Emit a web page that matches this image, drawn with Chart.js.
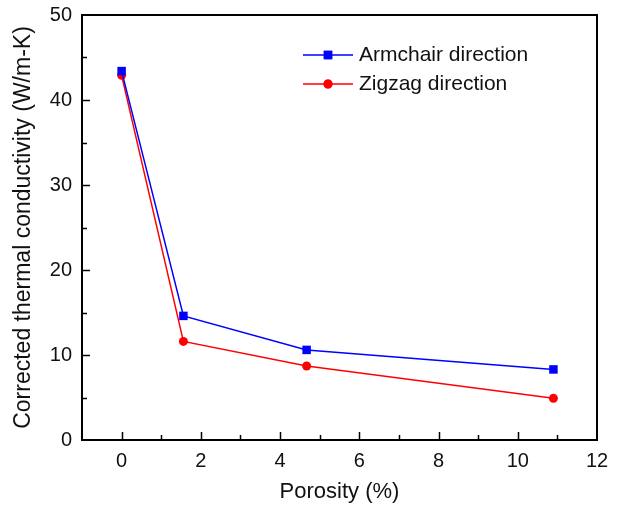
<!DOCTYPE html>
<html>
<head>
<meta charset="utf-8">
<script src="https://cdn.jsdelivr.net/npm/chart.js@4/dist/chart.umd.min.js"></script>
<style>
  html, body { margin: 0; padding: 0; background: #fff; }
  #wrap { width: 618px; height: 510px; position: relative; }
</style>
</head>
<body>
<div id="wrap"><canvas id="myChart" width="618" height="510"></canvas></div>
<script>
// data
const porosity = [0, 1.56, 4.67, 10.9];
const armchair = [43.4, 14.6, 10.6, 8.3];
const zigzag = [42.9, 11.6, 8.7, 4.9];
const seriesNames = ['Armchair direction', 'Zigzag direction'];
const xTicks = [-1, 0, 1, 2, 3, 4, 5, 6, 7, 8, 9, 10, 11, 12];
const yTicks = [0, 5, 10, 15, 20, 25, 30, 35, 40, 45, 50];

const fontFam = 'Arial, "Liberation Sans", sans-serif';

// frame + inner ticks + legend
const framePlugin = {
  id: 'frame',
  afterDraw(chart) {
    const ctx = chart.ctx;
    const a = chart.chartArea;
    const xs = chart.scales.x, ys = chart.scales.y;
    ctx.save();
    ctx.strokeStyle = '#000';
    ctx.lineWidth = 2;
    ctx.strokeRect(a.left, a.top, a.right - a.left, a.bottom - a.top);
    ctx.lineWidth = 1.5;
    ctx.beginPath();
    xTicks.forEach(v => {
      if (v <= -1 || v >= 12) return;
      const px = Math.round(xs.getPixelForValue(v)) + 0.5;
      const len = v % 2 === 0 ? 8 : 5;
      ctx.moveTo(px, a.bottom);
      ctx.lineTo(px, a.bottom - len);
    });
    yTicks.forEach(v => {
      if (v <= 0 || v >= 50) return;
      const py = Math.round(ys.getPixelForValue(v)) + 0.5;
      const len = v % 10 === 0 ? 8 : 5;
      ctx.moveTo(a.left, py);
      ctx.lineTo(a.left + len, py);
    });
    ctx.stroke();

    // legend
    const rows = [
      { name: seriesNames[0], color: '#0000ff', style: 'rect', r: 6, y: 55 },
      { name: seriesNames[1], color: '#ff0000', style: 'circle', r: 4.5, y: 84 }
    ];
    ctx.font = '21px ' + fontFam;
    ctx.textBaseline = 'middle';
    rows.forEach(row => {
      ctx.strokeStyle = row.color;
      ctx.lineWidth = 1.5;
      ctx.beginPath();
      ctx.moveTo(303, row.y);
      ctx.lineTo(353, row.y);
      ctx.stroke();
      ctx.fillStyle = row.color;
      Chart.helpers.drawPoint(ctx, { pointStyle: row.style, radius: row.r, borderWidth: 0 }, 328, row.y);
      ctx.fill();
      ctx.fillStyle = '#111';
      ctx.fillText(row.name, 359, row.y);
    });
    ctx.restore();
  }
};

const ctx = document.getElementById('myChart').getContext('2d');
const myChart = new Chart(ctx, {
  type: 'line',
  data: {
    datasets: [
      {
        label: seriesNames[0],
        data: porosity.map((x, i) => ({ x: x, y: armchair[i] })),
        borderColor: '#0000ff',
        backgroundColor: '#0000ff',
        borderWidth: 1.5,
        pointStyle: 'rect',
        pointRadius: 6,
        pointBorderWidth: 0,
        tension: 0
      },
      {
        label: seriesNames[1],
        data: porosity.map((x, i) => ({ x: x, y: zigzag[i] })),
        borderColor: '#ff0000',
        backgroundColor: '#ff0000',
        borderWidth: 1.5,
        pointStyle: 'circle',
        pointRadius: 4.5,
        pointBorderWidth: 0,
        tension: 0
      }
    ]
  },
  options: {
    responsive: false,
    animation: false,
    layout: { padding: { top: 15, right: 21, left: 0, bottom: 0 } },
    plugins: { legend: { display: false }, tooltip: { enabled: false } },
    scales: {
      x: {
        type: 'linear',
        min: -1,
        max: 12,
        afterFit(scale) {
          scale.height = 70;
          scale.paddingLeft = 0;
          scale.paddingRight = 0;
        },
        afterBuildTicks(scale) { scale.ticks = xTicks.map(v => ({ value: v })); },
        grid: { display: false, drawTicks: false },
        border: { display: false },
        ticks: {
          padding: 9,
          color: '#111',
          font: { family: fontFam, size: 20 },
          maxRotation: 0,
          autoSkip: false,
          callback: v => (v >= 0 && v % 2 === 0) ? String(v) : ''
        },
        title: {
          display: true,
          text: 'Porosity (%)',
          color: '#111',
          font: { family: fontFam, size: 22 },
          padding: { top: 0, bottom: 5 }
        }
      },
      y: {
        min: 0,
        max: 50,
        afterFit(scale) {
          scale.width = 82;
          scale.paddingTop = 0;
          scale.paddingBottom = 0;
        },
        afterBuildTicks(scale) { scale.ticks = yTicks.map(v => ({ value: v })); },
        grid: { display: false, drawTicks: false },
        border: { display: false },
        ticks: {
          padding: 10,
          color: '#111',
          font: { family: fontFam, size: 20 },
          autoSkip: false,
          callback: v => v % 10 === 0 ? String(v) : ''
        },
        title: {
          display: true,
          text: 'Corrected thermal conductivity (W/m-K)',
          color: '#111',
          font: { family: fontFam, size: 23 },
          padding: { top: 10, bottom: 0 }
        }
      }
    }
  },
  plugins: [framePlugin]
});
</script>
</body>
</html>
